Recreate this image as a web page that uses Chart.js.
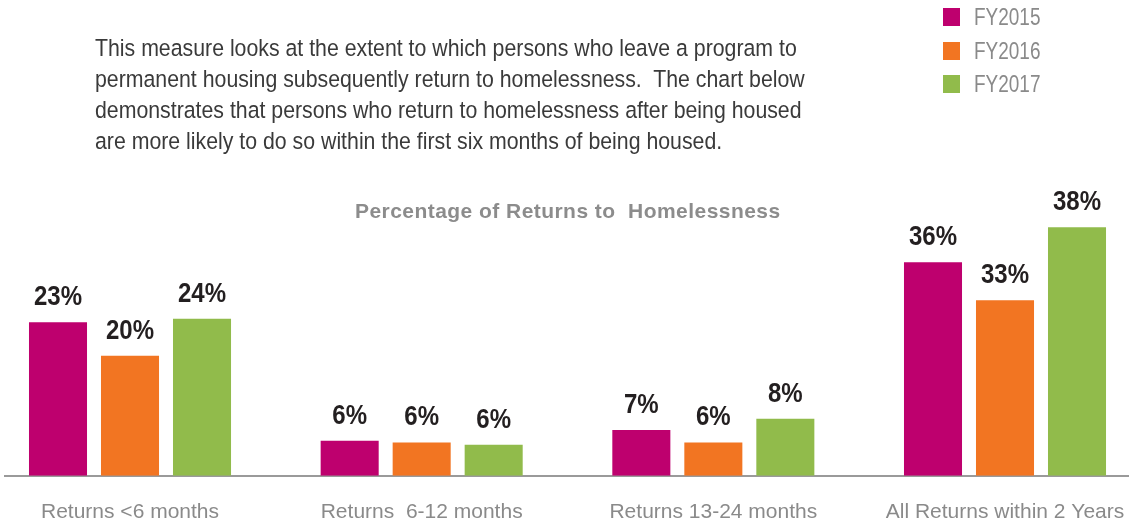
<!DOCTYPE html>
<html>
<head>
<meta charset="utf-8">
<script src="https://cdn.jsdelivr.net/npm/chart.js@4.4.0/dist/chart.umd.min.js"></script>
<style>
  html, body { margin: 0; padding: 0; background: #fff; }
  #page { position: relative; width: 1133px; height: 524px; overflow: hidden; }
  #chart { position: absolute; left: 0; top: 0; }
  .intro {
    position: absolute; left: 95px; top: 32px; margin: 0;
    font: 24.5px/31px "Liberation Sans", Arial, sans-serif;
    color: #3a3a3a; white-space: nowrap;
    transform: scaleX(0.869); transform-origin: 0 0;
  }
  .title {
    position: absolute; left: 355px; top: 200px; margin: 0;
    font: bold 21px/21px "Liberation Sans", Arial, sans-serif;
    letter-spacing: 0.45px; color: #8c8c8c; white-space: nowrap;
  }
  #legend { position: absolute; left: 943px; top: 8px; }
  .leg-row { position: relative; height: 33.5px; }
  .leg-box { position: absolute; left: 0; top: 0; width: 17px; height: 18px; }
  .leg-text {
    position: absolute; left: 31px; top: -3px;
    font: 23px/24px "Liberation Sans", Arial, sans-serif;
    color: #8a8a8a; white-space: nowrap;
    transform: scaleX(0.825); transform-origin: 0 0;
  }
</style>
</head>
<body>
<div id="page">
  <canvas id="chart" width="1133" height="549"></canvas>
  <p class="intro">This measure looks at the extent to which persons who leave a program to<br>permanent housing subsequently return to homelessness.&nbsp; The chart below<br>demonstrates that persons who return to homelessness after being housed<br>are more likely to do so within the first six months of being housed.</p>
  <div class="title">Percentage of Returns to&nbsp; Homelessness</div>
  <div id="legend"></div>
</div>
<script>
// categories and series
const categories = ['Returns <6 months', 'Returns  6-12 months', 'Returns 13-24 months', 'All Returns within 2 Years'];
const seriesNames = ['FY2015', 'FY2016', 'FY2017'];
// bar heights as drawn (percent)
const fy2015 = [25.8, 5.9, 7.7, 35.9];
const fy2016 = [20.2, 5.6, 5.6, 29.5];
const fy2017 = [26.4, 5.2, 9.6, 41.8];
// labels printed above the bars
const fy2015Labels = ['23%', '6%', '7%', '36%'];
const fy2016Labels = ['20%', '6%', '6%', '33%'];
const fy2017Labels = ['24%', '6%', '8%', '38%'];

const colors = ['#be006e', '#f27522', '#91bb4b'];

function toPoints(arr) {
  return arr.map((v, i) => ({ x: i, y: v }));
}

// bold value labels on top of each bar, slightly condensed
const valueLabelPlugin = {
  id: 'valueLabels',
  afterDatasetsDraw(chart) {
    const ctx = chart.ctx;
    chart.data.datasets.forEach((ds, di) => {
      const meta = chart.getDatasetMeta(di);
      meta.data.forEach((bar, i) => {
        ctx.save();
        ctx.font = 'bold 27px "Liberation Sans", Arial, sans-serif';
        ctx.fillStyle = '#231f20';
        ctx.textAlign = 'center';
        ctx.textBaseline = 'alphabetic';
        ctx.translate(bar.x, bar.y - 17);
        ctx.scale(0.89, 1);
        ctx.fillText(ds.shown[i], 0, 0);
        ctx.restore();
      });
    });
  }
};

const data = {
  datasets: [
    { label: seriesNames[0], data: toPoints(fy2015), shown: fy2015Labels, backgroundColor: colors[0] },
    { label: seriesNames[1], data: toPoints(fy2016), shown: fy2016Labels, backgroundColor: colors[1] },
    { label: seriesNames[2], data: toPoints(fy2017), shown: fy2017Labels, backgroundColor: colors[2] },
  ]
};

const config = {
  type: 'bar',
  data: data,
  options: {
    responsive: false,
    animation: false,
    categoryPercentage: 0.7406,
    barPercentage: 0.806,
    layout: { padding: { left: 5, right: 5, top: 0, bottom: 0 } },
    plugins: {
      legend: { display: false },
      tooltip: { enabled: false }
    },
    scales: {
      x: {
        type: 'linear',
        offset: false,
        min: -0.4286,
        max: 3.4217,
        grid: { display: false, drawTicks: false, offset: false },
        border: { display: true, color: '#9a9a9a', width: 2 },
        afterBuildTicks(axis) {
          axis.ticks = categories.map((c, i) => ({ value: i }));
        },
        afterFit(axis) {
          // labels may run to the edge, don't shrink the plot for them
          axis.paddingLeft = 0;
          axis.paddingRight = 0;
        },
        ticks: {
          autoSkip: false,
          maxRotation: 0,
          padding: 24,
          color: '#8a8a8a',
          font: { family: '"Liberation Sans", Arial, sans-serif', size: 21, lineHeight: 1.2 },
          callback: (v) => categories[v]
        }
      },
      y: {
        display: false,
        min: 0,
        max: 80
      }
    }
  },
  plugins: [valueLabelPlugin]
};

const myChart = new Chart(document.getElementById('chart'), config);

// legend built from the chart's datasets
const legendEl = document.getElementById('legend');
myChart.data.datasets.forEach((ds) => {
  const row = document.createElement('div');
  row.className = 'leg-row';
  const box = document.createElement('span');
  box.className = 'leg-box';
  box.style.background = ds.backgroundColor;
  const txt = document.createElement('span');
  txt.className = 'leg-text';
  txt.textContent = ds.label;
  row.appendChild(box);
  row.appendChild(txt);
  legendEl.appendChild(row);
});
</script>
</body>
</html>
